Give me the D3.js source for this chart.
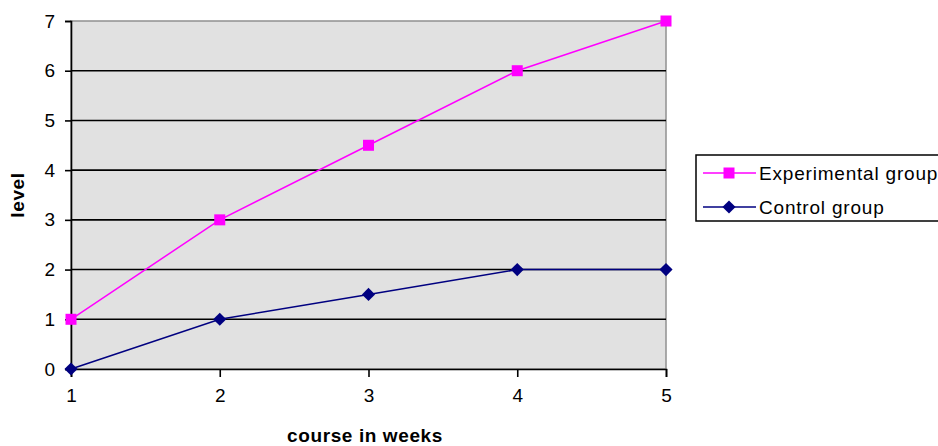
<!DOCTYPE html>
<html>
<head>
<meta charset="utf-8">
<script src="https://cdn.jsdelivr.net/npm/d3@7"></script>
<style>
  html, body { margin: 0; padding: 0; background: #fff; }
  svg { display: block; font-family: "Liberation Sans", Arial, sans-serif; }
</style>
</head>
<body>
<div id="chart"></div>
<script>
// week numbers along the x axis
const weeks = [1, 2, 3, 4, 5];
// levels
const experimental = [1, 3, 4.5, 6, 7];
const control = [0, 1, 1.5, 2, 2];
const yTicks = [0, 1, 2, 3, 4, 5, 6, 7];
const seriesNames = ['Experimental group', 'Control group'];

const width = 938, height = 446;
const margin = { left: 71, top: 21, right: 272, bottom: 77 };

const svg = d3.select('#chart').append('svg')
  .attr('width', width)
  .attr('height', height);

const x = d3.scaleLinear().domain([1, 5]).range([margin.left, width - margin.right]);
const y = d3.scaleLinear().domain([0, 7]).range([height - margin.bottom, margin.top]);

// plot area background
svg.append('rect')
  .attr('x', x(1)).attr('y', y(7))
  .attr('width', x(5) - x(1)).attr('height', y(0) - y(7))
  .attr('fill', '#e1e1e1')
  .attr('stroke', '#909090')
  .attr('stroke-width', 1.5);

// horizontal gridlines
svg.append('g').selectAll('line').data(yTicks.filter(d => d > 0 && d < 7)).join('line')
  .attr('x1', x(1)).attr('x2', x(5))
  .attr('y1', d => y(d)).attr('y2', d => y(d))
  .attr('stroke', '#000').attr('stroke-width', 1.6);

// y axis
const yAxis = svg.append('g')
  .attr('transform', `translate(${x(1)},0)`)
  .call(d3.axisLeft(y).tickValues(yTicks).tickSize(6).tickPadding(10).tickFormat(d3.format('d')));
yAxis.select('.domain').attr('stroke', '#000').attr('stroke-width', 1.6);
yAxis.selectAll('.tick line').attr('stroke', '#000').attr('stroke-width', 1.6);
yAxis.selectAll('text').attr('font-size', 19).attr('fill', '#000')
  .attr('font-family', '"Liberation Sans", Arial, sans-serif');

// x axis
const xAxis = svg.append('g')
  .attr('transform', `translate(0,${y(0)})`)
  .call(d3.axisBottom(x).tickValues(weeks).tickSize(8).tickPadding(12).tickFormat(d3.format('d')));
xAxis.select('.domain').attr('stroke', '#000').attr('stroke-width', 1.6);
xAxis.selectAll('.tick line').attr('stroke', '#000').attr('stroke-width', 1.6);
xAxis.selectAll('text').attr('font-size', 19).attr('fill', '#000')
  .attr('font-family', '"Liberation Sans", Arial, sans-serif');

const line = d3.line().x((d, i) => x(weeks[i])).y(d => y(d));

// experimental series: magenta squares
svg.append('path').datum(experimental)
  .attr('d', line).attr('fill', 'none')
  .attr('stroke', '#ff00ff').attr('stroke-width', 1.5);
svg.append('g').selectAll('rect').data(experimental).join('rect')
  .attr('x', (d, i) => x(weeks[i]) - 5.5)
  .attr('y', d => y(d) - 5.5)
  .attr('width', 11).attr('height', 11)
  .attr('fill', '#ff00ff');

// control series: navy diamonds
const diamond = d3.symbol().type(d3.symbolDiamond2).size(110);
svg.append('path').datum(control)
  .attr('d', line).attr('fill', 'none')
  .attr('stroke', '#000080').attr('stroke-width', 1.5);
svg.append('g').selectAll('path').data(control).join('path')
  .attr('d', diamond)
  .attr('transform', (d, i) => `translate(${x(weeks[i])},${y(d)})`)
  .attr('fill', '#000080');

// axis titles
svg.append('text')
  .attr('x', 365).attr('y', 442)
  .attr('text-anchor', 'middle')
  .attr('font-size', 19).attr('font-weight', 700)
  .attr('letter-spacing', 0.6)
  .text('course in weeks');

svg.append('text')
  .attr('transform', `translate(24,${y(3.5)}) rotate(-90)`)
  .attr('text-anchor', 'middle')
  .attr('font-size', 19).attr('font-weight', 700)
  .attr('letter-spacing', 0.6)
  .text('level');

// legend
const legend = svg.append('g').attr('transform', 'translate(696,155)');
legend.append('rect')
  .attr('x', 0).attr('y', 0)
  .attr('width', 260).attr('height', 66)
  .attr('fill', '#fff').attr('stroke', '#000').attr('stroke-width', 1.5);

const legendColors = ['#ff00ff', '#000080'];
seriesNames.forEach((name, i) => {
  const cy = 18 + i * 34;
  legend.append('line')
    .attr('x1', 7).attr('x2', 60).attr('y1', cy).attr('y2', cy)
    .attr('stroke', legendColors[i]).attr('stroke-width', 1.5);
  if (i === 0) {
    legend.append('rect')
      .attr('x', 33 - 5.5).attr('y', cy - 5.5)
      .attr('width', 11).attr('height', 11)
      .attr('fill', legendColors[i]);
  } else {
    legend.append('path')
      .attr('d', diamond)
      .attr('transform', `translate(33,${cy})`)
      .attr('fill', legendColors[i]);
  }
  legend.append('text')
    .attr('x', 63).attr('y', cy)
    .attr('dy', '0.35em')
    .attr('font-size', 19)
    .attr('letter-spacing', 0.8)
    .text(name);
});
</script>
</body>
</html>
